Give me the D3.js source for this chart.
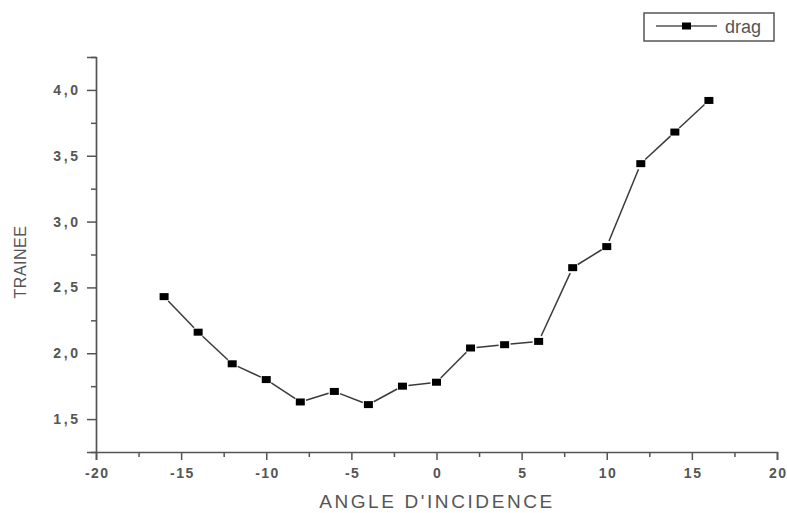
<!DOCTYPE html>
<html><head><meta charset="utf-8">
<script src="https://cdn.jsdelivr.net/npm/d3@7"></script>
<style>body{margin:0;background:#fff}svg{display:block}</style>
</head><body>
<svg id="c" width="787" height="513"></svg>
<script>
const angles = [-16,-14,-12,-10,-8,-6,-4,-2,0,2,4,6,8,10,12,14,16];
const drag = [2.43,2.16,1.92,1.80,1.63,1.71,1.61,1.75,1.78,2.04,2.065,2.09,2.65,2.81,3.44,3.68,3.92];
const xTicks = [-20,-15,-10,-5,0,5,10,15,20];
const yTicks = [1.5,2.0,2.5,3.0,3.5,4.0];
const seriesName = "drag";
const xTitle = "ANGLE D'INCIDENCE";
const yTitle = "TRAINEE";

const svg = d3.select("#c");
const L=96, R=777, T=57, B=452;
const x = d3.scaleLinear().domain([-20,20]).range([L,R]);
const y = d3.scaleLinear().domain([1.25,4.25]).range([B,T]);
const axCol = "#555";
const fmt = d3.format(".1f");
const FONT = "Liberation Sans, Arial, sans-serif";

const xMinor = d3.range(-20,20.01,2.5).filter(v=>!xTicks.includes(v));
const yMinor = d3.range(1.25,4.26,0.25).filter(v=>!yTicks.some(t=>Math.abs(t-v)<1e-6));

svg.append("g").attr("class","xa").attr("transform",`translate(0,${B})`)
  .call(d3.axisBottom(x).tickValues(xTicks).tickSize(8).tickPadding(8).tickFormat(d=>String(d)));
svg.append("g").attr("transform",`translate(0,${B})`)
  .call(d3.axisBottom(x).tickValues(xMinor).tickSize(5).tickFormat(""))
  .select(".domain").remove();
svg.append("g").attr("class","ya").attr("transform",`translate(${L},0)`)
  .call(d3.axisLeft(y).tickValues(yTicks).tickSize(9).tickPadding(9).tickFormat(d=>fmt(d).replace(".",",")));
svg.append("g").attr("transform",`translate(${L},0)`)
  .call(d3.axisLeft(y).tickValues(yMinor).tickSize(5).tickFormat(""))
  .select(".domain").remove();

svg.selectAll(".domain").attr("stroke",axCol).attr("stroke-width",1.7);
svg.selectAll(".tick line").attr("stroke",axCol).attr("stroke-width",1.5);
svg.selectAll(".tick text").attr("fill","#555").style("font-family",FONT)
  .style("font-size","14px").style("font-weight","bold");
svg.selectAll(".xa .tick text").style("letter-spacing","1.5px").attr("dx","0.75px");
svg.selectAll(".ya .tick text").style("letter-spacing","2.6px").attr("dx","2.6px");

// axis titles
svg.append("text").attr("x",437).attr("y",508).attr("text-anchor","middle")
  .attr("fill","#555").style("font-family",FONT).style("font-size","19px")
  .style("letter-spacing","2.6px").text(xTitle);
svg.append("text").attr("transform",`translate(26,262) rotate(-90)`).attr("text-anchor","middle")
  .attr("fill","#555").style("font-family",FONT).style("font-size","16px")
  .style("letter-spacing","0.5px").text(yTitle);

// line segments with gaps around markers
const pts = angles.map((a,i)=>[x(a),y(drag[i])]);
const gap = 6;
const segs = [];
for(let i=0;i<pts.length-1;i++){
  const [x0,y0]=pts[i],[x1,y1]=pts[i+1];
  const dx=x1-x0, dy=y1-y0, len=Math.hypot(dx,dy);
  const ux=dx/len, uy=dy/len;
  segs.push([x0+ux*gap,y0+uy*gap,x1-ux*gap,y1-uy*gap]);
}
svg.append("g").selectAll("line").data(segs).join("line")
  .attr("x1",d=>d[0]).attr("y1",d=>d[1]).attr("x2",d=>d[2]).attr("y2",d=>d[3])
  .attr("stroke","#3a3a3a").attr("stroke-width",1.5);
svg.append("g").selectAll("rect").data(angles).join("rect")
  .attr("x",(d)=>x(d)-4.5).attr("y",(d,i)=>y(drag[i])-3.5).attr("width",9).attr("height",7).attr("fill","#000");

// legend
const lg = svg.append("g");
lg.append("rect").attr("x",644).attr("y",13).attr("width",130).attr("height",28)
  .attr("fill","#fff").attr("stroke","#555").attr("stroke-width",1.5);
lg.append("line").attr("x1",656).attr("x2",717).attr("y1",26).attr("y2",26).attr("stroke","#555").attr("stroke-width",1.5);
lg.append("rect").attr("x",682).attr("y",22.5).attr("width",9).attr("height",7).attr("fill","#000");
lg.append("text").attr("x",725).attr("y",33).attr("fill","#555")
  .style("font-family",FONT).style("font-size","18px").text(seriesName);
</script>
</body></html>
